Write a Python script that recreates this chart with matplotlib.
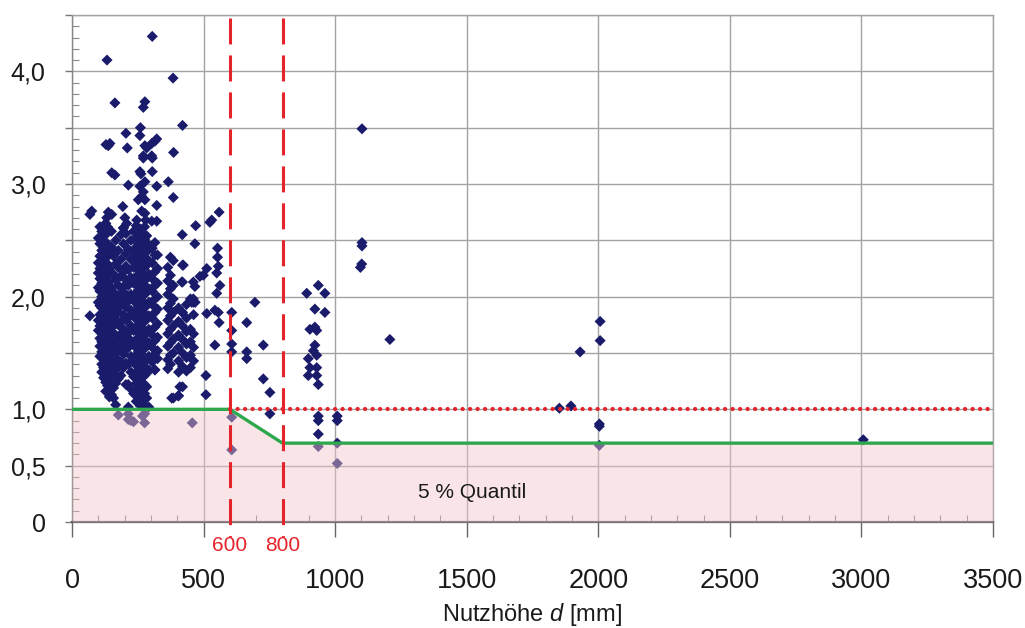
import matplotlib
matplotlib.use("Agg")
import matplotlib.pyplot as plt
from matplotlib import font_manager
from matplotlib.ticker import MultipleLocator, FixedLocator, FixedFormatter

# ---------------------------------------------------------------------------
# Data: effective depth d [mm] vs. ratio (test / prediction)
# ---------------------------------------------------------------------------
# Test series that share one depth: depth and the ratios measured at it
series_depths = [100, 106, 113, 120, 128, 135, 142, 150, 158, 166, 176, 186, 196, 205,
                 214, 224, 234, 244, 252, 260, 268, 276, 284, 292,
                 305, 315, 325, 364, 374, 385, 405, 420, 435, 450, 462]
series_ratios = [
    [2.52, 2.30, 2.21, 2.08, 1.95, 1.79, 1.70],
    [2.62, 2.47, 2.36, 2.25, 2.16, 2.05, 1.92, 1.84, 1.74, 1.63, 1.56, 1.47],
    [2.58, 2.50, 2.41, 2.31, 2.19, 2.12, 2.00, 1.90, 1.81, 1.72, 1.60, 1.51, 1.40, 1.33],
    [2.44, 2.35, 2.27, 2.14, 2.06, 1.97, 1.86, 1.77, 1.67, 1.58, 1.49, 1.37, 1.28],
    [2.65, 2.55, 2.34, 2.23, 2.10, 2.02, 1.93, 1.82, 1.74, 1.64, 1.54, 1.45, 1.36, 1.24, 1.16],
    [2.62, 2.47, 2.29, 2.18, 2.05, 1.96, 1.88, 1.79, 1.70, 1.60, 1.51, 1.42, 1.31, 1.21],
    [2.40, 2.25, 2.13, 2.00, 1.91, 1.83, 1.72, 1.65, 1.56, 1.47, 1.38, 1.27, 1.18, 1.11],
    [2.58, 2.44, 2.21, 2.08, 1.97, 1.87, 1.76, 1.68, 1.59, 1.50, 1.41, 1.34, 1.22, 1.13],
    [2.36, 2.20, 2.04, 1.94, 1.84, 1.74, 1.62, 1.53, 1.44, 1.32, 1.19, 1.10],
    [2.50, 2.29, 2.15, 2.01, 1.89, 1.80, 1.66, 1.57, 1.46, 1.35, 1.23, 1.04],
    [2.41, 2.26, 2.10, 1.97, 1.86, 1.75, 1.63, 1.52, 1.39, 1.27, 0.95],
    [2.55, 2.33, 2.18, 2.03, 1.92, 1.78, 1.67, 1.55, 1.42, 1.30],
    [2.61, 2.47, 2.22, 2.09, 1.98, 1.84, 1.71, 1.60, 1.49, 1.37],
    [2.56, 2.38, 2.27, 2.15, 2.02, 1.91, 1.79, 1.66, 1.53, 1.41, 1.22],
    [2.42, 2.24, 2.10, 1.96, 1.82, 1.68, 1.55, 1.40, 1.22, 1.02, 0.96, 0.91],
    [2.50, 2.33, 2.17, 2.02, 1.88, 1.74, 1.61, 1.47, 1.33, 1.18, 0.90],
    [2.58, 2.40, 2.26, 2.12, 1.99, 1.85, 1.70, 1.57, 1.44, 1.29, 1.14, 0.89],
    [2.63, 2.52, 2.44, 2.36, 2.27, 2.18, 2.11, 2.03, 1.94, 1.87, 1.80, 1.71, 1.62, 1.55,
     1.48, 1.39, 1.30, 1.23, 1.16, 1.07],
    [2.57, 2.47, 2.39, 2.31, 2.24, 2.15, 2.06, 1.99, 1.91, 1.82, 1.75, 1.68, 1.59, 1.51,
     1.42, 1.35, 1.28, 1.19, 1.11],
    [2.60, 2.53, 2.45, 2.37, 2.28, 2.21, 2.13, 2.04, 1.97, 1.89, 1.81, 1.72, 1.65, 1.57,
     1.49, 1.41, 1.33, 1.25, 1.17, 1.09, 1.03],
    [2.56, 2.48, 2.41, 2.33, 2.25, 2.17, 2.08, 2.01, 1.93, 1.86, 1.77, 1.69, 1.61, 1.53,
     1.46, 1.37, 1.29, 1.21, 1.13, 1.05, 0.94],
    [2.62, 2.51, 2.43, 2.35, 2.26, 2.18, 2.10, 2.02, 1.94, 1.85, 1.78, 1.70, 1.62, 1.54,
     1.46, 1.38, 1.30, 1.22, 1.14, 0.96, 0.88],
    [2.54, 2.40, 2.28, 2.16, 2.04, 1.92, 1.80, 1.68, 1.56, 1.44, 1.32, 1.20, 1.10],
    [2.46, 2.32, 2.20, 2.07, 1.95, 1.83, 1.71, 1.59, 1.47, 1.35, 1.02],
    [2.43, 2.30, 2.16, 2.05, 1.93, 1.81, 1.66, 1.55, 1.42],
    [2.48, 2.37, 2.22, 2.10, 1.98, 1.86, 1.73, 1.61, 1.49, 1.35],
    [2.37, 2.25, 2.12, 2.00, 1.89, 1.76, 1.64, 1.52, 1.45],
    [2.26, 2.14, 2.02, 1.90, 1.79, 1.67, 1.56, 1.44, 1.36],
    [2.35, 2.19, 2.07, 1.94, 1.83, 1.71, 1.59, 1.48, 1.40],
    [2.32, 2.10, 1.98, 1.86, 1.74, 1.62, 1.50, 1.10],
    [1.90, 1.78, 1.66, 1.55, 1.43, 1.33, 1.12],
    [2.28, 2.13, 1.86, 1.74, 1.62, 1.50, 1.38, 1.20],
    [1.93, 1.81, 1.69, 1.58, 1.46, 1.34],
    [1.98, 1.71, 1.60, 1.48, 1.37],
    [1.95, 1.84, 1.67, 1.55, 1.43],
]

# Individual tests
single_depths = [305, 133, 384, 163, 277, 271, 420, 260, 205, 258, 129, 144, 138, 210, 277,
                 284, 303, 315, 322, 386, 271, 303, 271, 305, 151, 163, 258, 262, 305, 277,
                 214, 258, 322, 366, 271, 265, 252, 277, 385, 193, 322, 75, 68, 138, 151,
                 265, 277, 280, 132, 128, 201, 208, 195, 246, 303, 322,
                 559, 531, 524, 470, 419, 467, 553, 553, 512, 499, 486, 423, 417, 461, 467,
                 556, 550, 562, 550, 461, 455, 468, 419, 512, 543, 556, 559, 543, 509, 509,
                 410, 404, 379, 315, 607, 607, 607, 607, 664, 664, 664, 695, 727, 727, 752,
                 752, 607, 607, 457, 68,
                 1102, 1102, 1102, 1101, 1096, 936, 892, 961, 923, 961, 904, 923, 930, 923,
                 917, 930, 898, 904, 930, 930, 898, 936, 1208, 936, 936, 936, 936, 1008,
                 1008, 1008, 1008,
                 2007, 2007, 1931, 1852, 1896, 2004, 2004, 2004, 3007]
single_ratios = [4.31, 4.10, 3.94, 3.72, 3.73, 3.68, 3.52, 3.50, 3.45, 3.43, 3.35, 3.36, 3.34,
                 3.32, 3.34, 3.32, 3.36, 3.38, 3.40, 3.28, 3.25, 3.25, 3.23, 3.23, 3.10, 3.08,
                 3.11, 3.09, 3.11, 3.02, 2.99, 2.98, 2.98, 3.02, 2.93, 2.89, 2.86, 2.86, 2.88,
                 2.80, 2.81, 2.76, 2.73, 2.75, 2.73, 2.76, 2.74, 2.68, 2.70, 2.65, 2.70, 2.65,
                 2.61, 2.68, 2.67, 2.67,
                 2.75, 2.68, 2.66, 2.63, 2.55, 2.47, 2.43, 2.35, 2.25, 2.19, 2.18, 2.28, 2.13,
                 2.13, 2.09, 2.27, 2.21, 2.10, 2.03, 1.98, 1.95, 1.95, 1.86, 1.85, 1.88, 1.86,
                 1.77, 1.57, 1.30, 1.13, 1.20, 1.12, 1.10, 1.35, 1.86, 1.70, 1.58, 1.51, 1.77,
                 1.51, 1.45, 1.95, 1.57, 1.27, 1.15, 0.96, 0.93, 0.64, 0.88, 1.83,
                 3.49, 2.48, 2.45, 2.29, 2.26, 2.10, 2.03, 2.03, 1.89, 1.86, 1.71, 1.73, 1.70,
                 1.57, 1.52, 1.48, 1.45, 1.37, 1.37, 1.30, 1.30, 1.22, 1.62, 0.94, 0.90, 0.78,
                 0.67, 0.94, 0.90, 0.70, 0.52,
                 1.78, 1.61, 1.51, 1.01, 1.03, 0.87, 0.85, 0.68, 0.73]

# 5 % quantile and reference levels
quantile_depths = [0, 600, 800, 3500]
quantile_ratios = [1.0, 1.0, 0.7, 0.7]
limit_depths = [600, 800]
reference_ratio = 1.0

x_ticks = [0, 500, 1000, 1500, 2000, 2500, 3000, 3500]
y_ticks = [0, 0.5, 1.0, 1.5, 2.0, 2.5, 3.0, 3.5, 4.0, 4.5]
y_tick_labels = ["0", "0,5", "1,0", "", "2,0", "", "3,0", "", "4,0", ""]

# ---------------------------------------------------------------------------
installed = {f.name for f in font_manager.fontManager.ttflist}
regular = "Liberation Sans" if "Liberation Sans" in installed else "DejaVu Sans"
plt.rcParams["font.family"] = [regular, "DejaVu Sans"]
plt.rcParams["mathtext.fontset"] = "custom"
plt.rcParams["mathtext.rm"] = regular
plt.rcParams["mathtext.it"] = f"{regular}:italic"

NAVY = "#1b1b6c"
RED = "#e5232b"
GREEN = "#2ea84c"
GRID = "#a3a3a3"
TEXT = "#1a1a1a"

fig = plt.figure(figsize=(10.25, 6.28), dpi=100)
W, H = 1025, 628
ax = fig.add_axes([72 / W, 1 - 522 / H, (993 - 72) / W, (522 - 15) / H])

# measured ratios
xs, ys = [], []
for d, vals in zip(series_depths, series_ratios):
    xs.extend([d] * len(vals))
    ys.extend(vals)
xs.extend(single_depths)
ys.extend(single_ratios)
ax.scatter(xs, ys, marker="D", s=32, color=NAVY, edgecolors="none", zorder=2)

# shaded region below the 5 % quantile (translucent, tints the points underneath)
ax.fill_between(quantile_depths, 0, quantile_ratios, color="#f2c6ca", alpha=0.45,
                linewidth=0, zorder=3)

# 5 % quantile line
ax.plot(quantile_depths, quantile_ratios, color=GREEN, lw=2.4, zorder=4,
        solid_joinstyle="miter")

# reference level 1.0 beyond 600 mm
ax.plot([limit_depths[0], 3500], [reference_ratio, reference_ratio], color=RED, lw=3.0,
        linestyle=(0, (0.05, 1.75)), dash_capstyle="round", zorder=5)

# limit depths 600 / 800 mm
for d in limit_depths:
    ax.plot([d, d], [4.47, -0.135], color=RED, lw=2.2, linestyle=(0, (8.5, 3.6)),
            clip_on=False, zorder=6)
    ax.text(d, -0.205, f"{d}", color=RED, ha="center", va="center", fontsize=15,
            clip_on=False)

ax.text(1520, 0.26, "5 % Quantil", ha="center", va="center", fontsize=15,
        color=TEXT, zorder=7)

ax.set_xlim(0, 3500)
ax.set_ylim(0, 4.5)

ax.xaxis.set_major_locator(FixedLocator(x_ticks))
ax.xaxis.set_minor_locator(MultipleLocator(100))
ax.yaxis.set_major_locator(FixedLocator(y_ticks))
ax.yaxis.set_major_formatter(FixedFormatter(y_tick_labels))
ax.yaxis.set_minor_locator(MultipleLocator(0.1))

ax.grid(True, which="major", color=GRID, lw=1.0)
ax.set_axisbelow(True)

ax.tick_params(axis="x", which="major", direction="out", length=11, width=1.0,
               color="#666666", pad=22, labelsize=19.5, labelcolor=TEXT)
ax.tick_params(axis="x", which="minor", direction="in", length=5, width=0.8,
               color="#888888")
ax.tick_params(axis="y", which="major", direction="out", length=5, width=1.0,
               color="#777777", pad=14, labelsize=18, labelcolor=TEXT)
ax.tick_params(axis="y", which="minor", direction="in", length=5, width=0.8,
               color="#888888")

for side in ("top", "right"):
    ax.spines[side].set_color(GRID)
    ax.spines[side].set_linewidth(1.0)
ax.spines["left"].set_color("#888888")
ax.spines["left"].set_linewidth(1.0)
ax.spines["bottom"].set_color("#555555")
ax.spines["bottom"].set_linewidth(1.6)

ax.set_xlabel(r"Nutzhöhe $d$ [mm]", fontsize=17, color=TEXT, labelpad=5)

fig.savefig("out.png", dpi=100, facecolor="white")
